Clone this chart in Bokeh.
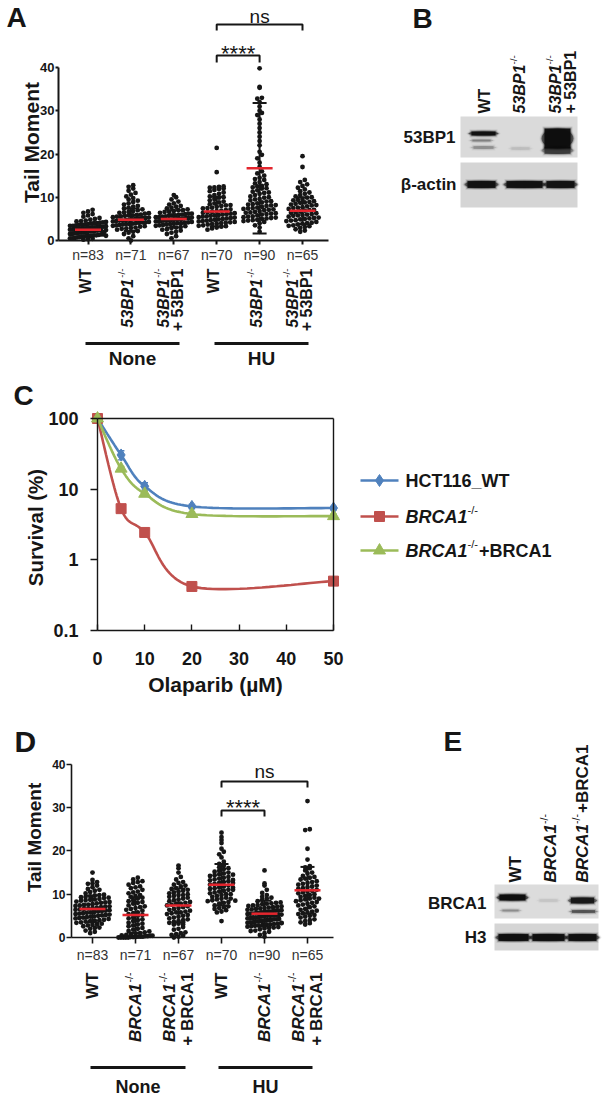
import math
import numpy as np
from bokeh.plotting import figure
from bokeh.layouts import column, row
from bokeh.models import Range1d, LinearAxis, LogAxis, FixedTicker
from bokeh.core.properties import value
from bokeh.embed import file_html
from bokeh.resources import INLINE

FONT = "Liberation Sans"
INK = "#161616"
MEAN_RED = "#e3262e"

# ======================= DATA =======================
# Panel A - tail moment, 53BP1 series
a_none_wt = [0.2,0.3,0.4,0.5,0.5,0.6,0.7,0.8,0.8,0.9,1.0,1.0,1.1,1.2,1.2,1.3,1.4,1.4,1.5,1.5,1.6,1.7,1.7,1.8,1.8,1.9,1.9,2.0,2.0,2.1,2.1,2.2,2.2,2.3,2.3,2.4,2.4,2.5,2.5,2.6,2.6,2.7,2.7,2.8,2.8,2.9,2.9,3.0,3.0,3.1,3.1,3.2,3.2,3.3,3.4,3.4,3.5,3.6,3.6,3.7,3.8,3.9,4.0,4.0,4.1,4.2,4.3,4.4,4.5,4.6,4.8,5.0,5.2,5.5,5.8,6.1,6.4,6.7,7.1,1.1,1.6,2.0,2.4]
a_none_ko = [0.0,0.5,1.0,1.5,1.8,2.0,2.2,2.5,2.7,2.8,2.9,3.0,3.2,3.3,3.4,3.5,3.6,3.7,3.8,3.8,3.9,4.0,4.1,4.2,4.2,4.3,4.4,4.5,4.6,4.6,4.7,4.8,4.9,5.0,5.1,5.2,5.2,5.3,5.4,5.5,5.6,5.7,5.8,5.8,5.9,6.0,6.2,6.3,6.4,6.5,6.6,6.8,7.0,7.2,7.4,7.6,7.8,8.0,8.3,8.6,8.9,9.2,9.5,9.8,10.2,10.6,11.0,11.5,12.0,12.4,12.8]
a_none_res = [0.5,1.0,1.5,1.8,2.0,2.3,2.5,2.6,2.9,3.0,3.1,3.3,3.4,3.5,3.6,3.7,3.8,3.9,4.0,4.0,4.1,4.2,4.3,4.4,4.4,4.5,4.6,4.6,4.7,4.8,4.8,4.9,5.0,5.0,5.1,5.2,5.2,5.3,5.4,5.4,5.5,5.6,5.7,5.8,5.8,5.9,6.0,6.1,6.2,6.2,6.4,6.6,6.6,6.8,7.0,7.0,7.2,7.4,7.6,7.8,8.0,8.3,8.6,9.0,9.5,10.0,10.5]
a_hu_wt = [2.5,2.8,3.0,3.2,3.3,3.4,3.5,3.7,3.8,3.9,4.0,4.1,4.2,4.3,4.4,4.5,4.6,4.7,4.8,4.9,5.0,5.1,5.2,5.3,5.4,5.5,5.6,5.7,5.8,5.9,6.0,6.1,6.2,6.3,6.4,6.5,6.6,6.8,6.9,7.0,7.2,7.4,7.5,7.6,7.8,8.0,8.1,8.2,8.4,8.6,8.8,9.0,9.3,9.6,9.9,10.0,10.2,10.5,10.8,11.1,11.4,11.7,11.9,12.0,12.2,12.3,12.4,12.5,15.8,21.4]
a_hu_ko = [2.0,3.0,3.5,4.0,4.3,4.5,4.6,4.7,4.8,5.0,5.1,5.2,5.3,5.4,5.5,5.6,5.8,6.0,6.1,6.2,6.3,6.4,6.5,6.6,6.8,7.0,7.1,7.2,7.3,7.4,7.5,7.6,7.8,8.0,8.1,8.2,8.3,8.4,8.6,8.8,9.0,9.1,9.3,9.5,9.6,9.9,10.0,10.2,10.5,10.8,11.0,11.1,11.3,11.6,12.0,12.1,12.3,12.5,12.6,13.0,13.2,13.5,14.0,14.2,14.5,15.0,15.5,16.0,17.0,18.0,19.0,19.8,20.5,22.0,23.0,24.0,25.0,26.0,27.0,28.0,29.0,29.5,30.0,31.0,32.0,32.8,33.0,35.3,35.5,39.8]
a_hu_res = [2.0,2.3,2.6,2.9,3.1,3.3,3.4,3.5,3.7,3.9,4.0,4.1,4.3,4.5,4.6,4.7,4.9,5.0,5.1,5.2,5.3,5.5,5.7,5.8,5.9,6.0,6.1,6.3,6.4,6.5,6.7,6.9,7.0,7.1,7.3,7.5,7.6,7.7,7.9,8.1,8.2,8.3,8.5,8.7,8.8,8.9,9.1,9.3,9.4,9.6,9.9,10.0,10.2,10.5,10.8,11.1,11.4,11.8,12.2,12.6,13.0,13.5,14.0,17.0,19.5]
a_means = [2.5, 4.8, 5.0, 6.7, 16.7, 6.9]
a_sds = [1.3, 2.6, 2.0, 3.4, 15.1, 3.1]
a_n_labels = ["n=83", "n=71", "n=67", "n=70", "n=90", "n=65"]
a_lanes = [
    [[("WT", "b")]],
    [[("53BP1", "bi"), ("-/-", "sup")]],
    [[("53BP1", "bi"), ("-/-", "sup")], [("+ 53BP1", "b")]],
    [[("WT", "b")]],
    [[("53BP1", "bi"), ("-/-", "sup")]],
    [[("53BP1", "bi"), ("-/-", "sup")], [("+ 53BP1", "b")]],
]
treatments = ["None", "HU"]
a_sig = [(4, 5, "****"), (4, 6, "ns")]

# Panel B - western blot band intensities (relative)
b_lane_labels = [[("WT", "b")], [("53BP1", "bi"), ("-/-", "sup")],
                 [("53BP1", "bi"), ("-/-", "sup")], [("+ 53BP1", "b")]]
b_53bp1 = [0.95, 0.06, 1.0]
b_actin = [0.92, 0.92, 0.90]

# Panel C - survival vs olaparib
olaparib_um = [0, 5, 10, 20, 50]
surv_wt = [100, 30.5, 11.0, 5.7, 5.4]
surv_ko = [100, 5.3, 2.44, 0.42, 0.50]
surv_res = [100, 19.5, 8.6, 4.45, 4.15]
err_wt = [0, 4.5, 1.3, 0.4, 0.3]
err_ko = [0, 0.3, 0.2, 0.03, 0.03]
err_res = [0, 1.5, 0.7, 0.3, 0.3]
c_legend = [[("HCT116_WT", "b")], [("BRCA1", "bi"), ("-/-", "sup")],
            [("BRCA1", "bi"), ("-/-", "sup"), ("+BRCA1", "b")]]
c_colors = ["#4f81bd", "#c0504d", "#9bbb59"]
c_markers = ["diamond", "square", "triangle"]

# Panel D - tail moment, BRCA1 series
d_none_wt = [1.0,1.3,1.6,2.0,2.2,2.3,2.6,2.8,2.9,3.0,3.2,3.4,3.5,3.7,3.8,3.9,4.0,4.1,4.3,4.4,4.5,4.6,4.7,4.8,4.9,5.0,5.1,5.2,5.3,5.4,5.5,5.6,5.7,5.8,5.9,6.0,6.1,6.2,6.3,6.4,6.5,6.6,6.7,6.8,6.9,7.0,7.1,7.2,7.3,7.4,7.5,7.6,7.7,7.9,8.0,8.1,8.2,8.3,8.5,8.6,8.7,8.8,8.9,9.1,9.2,9.3,9.4,9.5,9.7,9.8,9.9,10.2,10.5,10.8,11.0,11.2,11.6,12.0,12.4,12.5,12.8,13.3,15.0]
d_none_ko = [0.0,0.0,0.0,0.0,0.0,0.1,0.1,0.1,0.2,0.2,0.2,0.3,0.3,0.4,0.4,0.5,0.6,0.7,0.9,1.0,1.2,1.4,1.5,1.8,2.0,2.2,2.6,2.8,3.0,3.2,3.4,3.8,4.0,4.2,4.4,4.6,5.0,5.2,5.4,5.6,5.8,6.2,6.4,6.6,6.8,7.0,7.2,7.4,7.8,8.0,8.2,8.4,8.6,9.0,9.2,9.4,9.6,9.8,10.2,10.4,10.6,11.0,11.4,11.6,11.8,12.2,12.6,12.8,13.0,13.4,13.8]
d_none_res = [0.0,0.2,0.4,0.6,0.8,1.0,1.2,1.8,2.0,2.4,3.0,3.2,3.4,3.6,3.8,4.0,4.2,4.4,4.6,4.8,5.0,5.2,5.4,5.6,5.8,5.8,6.0,6.2,6.4,6.6,6.8,7.0,7.2,7.4,7.6,7.8,7.8,8.0,8.2,8.4,8.6,8.8,9.0,9.2,9.4,9.6,9.8,9.8,10.0,10.2,10.4,10.6,10.8,11.0,11.2,11.4,11.8,12.0,12.2,12.6,12.8,13.4,14.0,15.0,16.0,16.6,3.0]
d_hu_wt = [3.8,5.8,6.0,6.3,6.6,6.8,7.0,7.2,7.4,7.8,8.0,8.2,8.4,8.6,8.8,9.0,9.2,9.4,9.6,9.8,10.0,10.2,10.4,10.6,10.8,11.0,11.0,11.2,11.4,11.6,11.8,12.0,12.2,12.4,12.6,12.8,13.0,13.2,13.4,13.6,13.8,14.0,14.2,14.4,14.6,14.8,15.0,15.2,15.4,15.8,16.0,16.2,16.6,17.0,17.5,18.5,19.2,19.8,20.5,21.8,22.5,23.2,24.2,12.6,10.0,9.0,11.5,13.3,14.5,8.5]
d_hu_ko = [0.2,0.6,1.0,1.3,1.5,1.6,1.9,2.1,2.2,2.3,2.4,2.5,2.6,2.7,2.8,2.9,3.0,3.0,3.1,3.2,3.3,3.4,3.5,3.5,3.6,3.7,3.8,3.8,3.9,4.0,4.0,4.1,4.2,4.2,4.3,4.4,4.5,4.5,4.6,4.7,4.8,4.9,5.0,5.0,5.1,5.2,5.2,5.3,5.4,5.5,5.5,5.6,5.7,5.8,5.9,6.0,6.0,6.1,6.2,6.2,6.3,6.4,6.5,6.6,6.7,6.8,6.9,7.0,7.1,7.2,7.3,7.4,7.5,7.7,7.8,7.9,8.0,8.1,8.4,8.7,9.0,9.2,9.4,9.8,10.3,11.0,12.0,12.5,15.5,3.4]
d_hu_res = [3.0,3.3,3.5,3.8,4.0,4.2,4.6,4.8,5.0,5.2,5.4,5.6,5.8,6.0,6.2,6.4,6.6,7.0,7.2,7.4,7.6,7.8,8.0,8.2,8.4,8.6,8.8,9.0,9.2,9.4,9.6,9.8,10.0,10.2,10.4,10.6,10.8,11.0,11.2,11.4,11.6,11.8,12.0,12.2,12.4,12.6,12.8,13.0,13.4,13.6,13.8,14.0,14.2,14.8,15.0,15.5,16.0,16.2,16.5,18.0,20.5,24.8,25.0,31.5,9.0]
d_means = [6.6, 5.2, 7.4, 12.2, 5.5, 10.9]
d_sds = [3.1, 4.1, 3.9, 4.8, 3.0, 5.4]
d_n_labels = ["n=83", "n=71", "n=67", "n=70", "n=90", "n=65"]
d_lanes = [
    [[("WT", "b")]],
    [[("BRCA1", "bi"), ("-/-", "sup")]],
    [[("BRCA1", "bi"), ("-/-", "sup")], [("+ BRCA1", "b")]],
    [[("WT", "b")]],
    [[("BRCA1", "bi"), ("-/-", "sup")]],
    [[("BRCA1", "bi"), ("-/-", "sup")], [("+ BRCA1", "b")]],
]
d_sig = [(4, 5, "****"), (4, 6, "ns")]

# Panel E - western blot band intensities (relative)
e_lane_labels = [[("WT", "b")], [("BRCA1", "bi"), ("-/-", "sup")],
                 [("BRCA1", "bi"), ("-/-", "sup"), ("+BRCA1", "b")]]
e_brca1 = [1.0, 0.05, 0.85]
e_h3 = [0.95, 0.95, 0.92]

# ======================= HELPERS =======================
AW = {' ': 278, '+': 584, '-': 333, '/': 278, '_': 556, 'A': 722, 'B': 722, 'C': 722,
      'H': 722, 'P': 667, 'R': 722, 'T': 611, 'W': 944}


def tw(s, size):
    return sum(AW.get(ch, 556) for ch in s) * size / 1000.0


def canvas(w, h, xr, yr, log_y=False):
    p = figure(width=w, height=h, x_range=Range1d(*xr), y_range=Range1d(*yr),
               y_axis_type="log" if log_y else "linear",
               x_axis_location=None, y_axis_location=None,
               min_border=0, toolbar_location=None, output_backend="svg")
    p.xgrid.visible = False
    p.ygrid.visible = False
    p.outline_line_color = None
    p.background_fill_color = "white"
    p.border_fill_color = "white"
    return p


def put(p, x, y, s, size, style="bold", align="left", base="middle", angle=0.0, color=INK, font=FONT):
    p.text(x=[x], y=[y], text=[s], angle=angle, text_font=value(font),
           text_font_size=value(f"{size}px"), text_font_style=style,
           text_align=align, text_baseline=base, text_color=color)


def fmt(parts, size):
    out = []
    for t, kind in parts:
        if kind == "sup":
            out.append((t, round(size * 0.62, 1), "normal", size * 0.38))
        elif kind == "bi":
            out.append((t, size, "bold italic", 0))
        else:
            out.append((t, size, "bold", 0))
    return out


def rot_right_top(p, fx, fy, xpx, top, parts):
    cur = top
    for t, size, style, rz in reversed(parts):
        put(p, fx(xpx - rz), fy(cur), t, size, style=style, align="right", angle=math.pi / 2)
        cur += tw(t, size) + (1 if rz else 0)


def rot_left_bottom(p, fx, fy, xpx, bottom, parts):
    cur = bottom
    for t, size, style, rz in parts:
        put(p, fx(xpx - rz), fy(cur), t, size, style=style, align="left", angle=math.pi / 2)
        cur -= tw(t, size) + (1 if rz else 0)


def hseq(p, fx, fy, x, mid, parts):
    cur = x
    for t, size, style, rz in parts:
        put(p, fx(cur), fy(mid - rz), t, size, style=style, align="left")
        cur += tw(t, size) + (1 if rz else 0)


def swarm(vals, k, row_px=4.2, col_px=4.6, maxw=34.0):
    vals = np.asarray(vals, float)
    bins = np.round(vals * k / row_px).astype(int)
    off = np.zeros(len(vals))
    for b in np.unique(bins):
        idx = np.where(bins == b)[0]
        n = len(idx)
        step = col_px if n < 2 else min(col_px, maxw / (n - 1))
        off[idx] = (np.arange(n) - (n - 1) / 2.0) * step
    return off


def axis_kw(**kw):
    base = dict(axis_line_color=INK, major_tick_line_color=INK, minor_tick_line_color=None,
                minor_tick_in=0, minor_tick_out=0, major_label_text_font=FONT,
                major_label_text_color=INK)
    base.update(kw)
    return base


# ======================= DOT PANELS (A, D) =======================
def dot_panel(cfg, groups, means, sds, nlab, lanes, sig):
    bx, by, bw, bh = cfg["box"]
    gx0, gdx, y0, k = cfg["gx0"], cfg["gdx"], cfg["y0"], cfg["k"]
    fx = lambda px: 1 + (px - gx0) / gdx
    fy = lambda py: (y0 - py) / k
    p = canvas(bw, bh, (fx(bx), fx(bx + bw)), (fy(by + bh), fy(by)))

    cats = np.arange(1, len(groups) + 1, dtype=float)
    xs, ys = [], []
    for c, vals in zip(cats, groups):
        off = swarm(vals, k, maxw=cfg["swarm_w"])
        xs.extend(c + off / gdx)
        ys.extend(vals)
    p.scatter(x=xs, y=ys, size=cfg["dot"], marker="circle", fill_color=INK, line_color=None)

    m = np.array(means)
    s = np.array(sds)
    lw = cfg["bar_w"]
    cap = cfg["cap"] / gdx
    p.segment(x0=cats, y0=m - s, x1=cats, y1=m + s, line_color=INK, line_width=lw)
    p.segment(x0=cats - cap, y0=m + s, x1=cats + cap, y1=m + s, line_color=INK, line_width=lw)
    p.segment(x0=cats - cap, y0=m - s, x1=cats + cap, y1=m - s, line_color=INK, line_width=lw)
    half = cfg["mean_half"] / gdx
    p.segment(x0=cats - half, y0=m, x1=cats + half, y1=m, line_color=MEAN_RED, line_width=2.5)

    yax = LinearAxis(**axis_kw(fixed_location=fx(cfg["ax"]), bounds=(0, 40),
                               ticker=FixedTicker(ticks=[0, 10, 20, 30, 40]),
                               axis_line_width=cfg["axis_w"], major_tick_line_width=cfg["axis_w"],
                               major_tick_out=cfg["tick"], major_tick_in=0,
                               major_label_text_font_size=f"{cfg['tick_size']}px",
                               major_label_text_font_style="bold", major_label_standoff=1))
    p.add_layout(yax, "left")
    xax = LinearAxis(**axis_kw(fixed_location=0, bounds=(fx(cfg["ax"]), fx(cfg["ar"])),
                               ticker=FixedTicker(ticks=list(cats)),
                               major_label_overrides={float(c): t for c, t in zip(cats, nlab)},
                               axis_line_width=cfg["axis_w"], major_tick_line_width=cfg["axis_w"],
                               major_tick_out=cfg["xtick"], major_tick_in=0,
                               major_label_text_font_size=f"{cfg['n_size']}px",
                               major_label_text_font_style="normal",
                               major_label_text_color="#333333",
                               major_label_standoff=cfg["n_standoff"]))
    p.add_layout(xax, "below")

    lt, lx, lm, ls = cfg["letter"]
    put(p, fx(lx), fy(lm), lt, ls)
    yl, ylx, yly, yls = cfg["ylabel"]
    put(p, fx(ylx), fy(yly), yl, yls, align="center", angle=math.pi / 2)

    for (i, j, lab), (ly, ty, tm, ts, st) in zip(sig, cfg["brackets"]):
        p.multi_line(xs=[[i, i, j, j]], ys=[[fy(ty), fy(ly), fy(ly), fy(ty)]],
                     line_color=INK, line_width=cfg["brk_w"])
        put(p, (i + j) / 2.0, fy(tm), lab, ts, style=st, align="center")

    for c, lines in zip(cats, lanes):
        L = len(lines)
        for jj, parts in enumerate(lines):
            xpx = gx0 + (c - 1) * gdx + cfg["lane_dx"] + (jj - (L - 1) / 2.0) * cfg["line_gap"]
            rot_right_top(p, fx, fy, xpx, cfg["lane_top"], fmt(parts, cfg["lane_size"]))

    for (x0, x1), name in zip(cfg["glines"], treatments):
        p.segment(x0=fx(x0), y0=fy(cfg["gl_y"]), x1=fx(x1), y1=fy(cfg["gl_y"]),
                  line_width=3, line_color=INK)
        put(p, fx((x0 + x1) / 2.0), fy(cfg["gl_mid"]), name, cfg["gl_size"], align="center")
    return p


cfg_a = dict(box=(0, 0, 338, 378), gx0=87.5, gdx=42.9, y0=240, k=4.325, ax=58, ar=328,
             dot=4.8, swarm_w=36, bar_w=2, cap=7, mean_half=13, axis_w=2, tick=3, xtick=4, tick_size=13,
             n_size=14, n_standoff=2, letter=("A", 6, 17, 28), ylabel=("Tail Moment", 31, 142, 21),
             brackets=[(55, 62, 53, 22, "normal"), (24, 30, 16, 19, "normal")], brk_w=2,
             lane_dx=-3, line_gap=14, lane_top=268, lane_size=16,
             glines=[(85, 179), (214, 308)], gl_y=343, gl_mid=358, gl_size=19)

cfg_d = dict(box=(0, 700, 340, 402), gx0=92, gdx=43, y0=937, k=4.33, ax=71, ar=333,
             dot=4.8, swarm_w=34, bar_w=2, cap=7, mean_half=13, axis_w=1.6, tick=5, xtick=6, tick_size=12,
             n_size=14, n_standoff=3, letter=("D", 14, 741, 30), ylabel=("Tail Moment", 34, 837, 19),
             brackets=[(810, 816, 807, 22, "normal"), (781, 787, 771, 19, "normal")], brk_w=2,
             lane_dx=0, line_gap=18, lane_top=972, lane_size=17,
             glines=[(90, 185), (218, 312)], gl_y=1067, gl_mid=1086, gl_size=18)

pa = dot_panel(cfg_a, [a_none_wt, a_none_ko, a_none_res, a_hu_wt, a_hu_ko, a_hu_res],
               a_means, a_sds, a_n_labels, a_lanes, a_sig)
pd = dot_panel(cfg_d, [d_none_wt, d_none_ko, d_none_res, d_hu_wt, d_hu_ko, d_hu_res],
               d_means, d_sds, d_n_labels, d_lanes, d_sig)


# ======================= BLOTS (B, E) =======================
def band(p, cx, cy, w, h, inten):
    for grow, a in ((4, 0.10), (2, 0.28), (0, 0.95)):
        p.ellipse(x=cx, y=-cy, width=w + grow + 6, height=h + grow, fill_color="#0c0c0c",
                  fill_alpha=min(1.0, a * inten * 0.6), line_color=None)
        p.rect(x=cx, y=-cy, width=w + grow, height=h + grow, fill_color="#0c0c0c",
               fill_alpha=min(1.0, a * inten), line_color=None)


ident = lambda v: v
neg = lambda v: -v

pb = canvas(273, 378, (338, 611), (-378, 0))
put(pb, 412, -18, "B", 28)
pb.quad(left=[460], right=[577], top=[-116], bottom=[-157], fill_color="#dadada", line_color=None)
pb.quad(left=[460], right=[577], top=[-162], bottom=[-207], fill_color="#d5d5d5", line_color=None)
b_lane_x = [483, 520, 557]
# 53BP1 row
band(pb, b_lane_x[0], 133, 24, 4, b_53bp1[0])
band(pb, b_lane_x[0] - 2, 140, 18, 2, b_53bp1[0] * 0.25)
band(pb, b_lane_x[0], 147, 20, 3, b_53bp1[0] * 0.2)
band(pb, b_lane_x[1], 148, 18, 3, b_53bp1[1])
band(pb, b_lane_x[2], 138, 26, 20, b_53bp1[2])
band(pb, b_lane_x[2], 150, 26, 7, b_53bp1[2] * 0.55)
# actin row
for cx, w, it in zip([481, 524, 560], [28, 36, 28], b_actin):
    band(pb, cx, 184, w, 7, it)
put(pb, 455, -137, "53BP1", 17, align="right")
put(pb, 456, -184, "β-actin", 17, align="right")
rot_left_bottom(pb, ident, neg, 484, 113, fmt(b_lane_labels[0], 16))
rot_left_bottom(pb, ident, neg, 519, 113, fmt(b_lane_labels[1], 16))
rot_left_bottom(pb, ident, neg, 555, 113, fmt(b_lane_labels[2], 16))
rot_left_bottom(pb, ident, neg, 570, 113, fmt(b_lane_labels[3], 16))

pe = canvas(271, 402, (340, 611), (-1102, -700))
put(pe, 443, -741, "E", 28)
pe.quad(left=[494], right=[598], top=[-884], bottom=[-918], fill_color="#dcdcdc", line_color=None)
pe.quad(left=[494], right=[598], top=[-923], bottom=[-950], fill_color="#d5d5d5", line_color=None)
e_lane_x = [512, 548, 582]
band(pe, e_lane_x[0], 897, 26, 6, e_brca1[0])
band(pe, e_lane_x[0] - 2, 910, 16, 2, e_brca1[0] * 0.2)
band(pe, e_lane_x[1], 900, 18, 3, e_brca1[1])
band(pe, e_lane_x[2], 900, 23, 6, e_brca1[2])
band(pe, e_lane_x[2] + 1, 911, 23, 3, e_brca1[2] * 0.5)
for cx, w, it in zip([513, 548, 582], [30, 32, 28], e_h3):
    band(pe, cx, 937, w, 7, it)
put(pe, 486, -903, "BRCA1", 17, align="right")
put(pe, 486, -937, "H3", 17, align="right")
for xpx, lab in zip([515, 550, 582], e_lane_labels):
    rot_left_bottom(pe, ident, neg, xpx, 882, fmt(lab, 17))

# ======================= PANEL C =======================
CX0, CKX = 97.0, 4.72       # px of 0 uM, px per uM
CY100, CKY = 418.0, 70.67   # px of 100 %, px per decade
cfx = lambda px: (px - CX0) / CKX
cfy = lambda py: 10 ** (2 - (py - CY100) / CKY)

pc = canvas(611, 322, (cfx(0), cfx(611)), (cfy(700), cfy(378)), log_y=True)


def excel_smooth(xd, yd, steps=24):
    P = np.column_stack([CX0 + CKX * np.asarray(xd, float), CKY * np.log10(np.asarray(yd, float))])
    n = len(P)
    out = [P[0]]
    for i in range(n - 1):
        p0 = P[i - 1] if i > 0 else P[i]
        p1, p2 = P[i], P[i + 1]
        p3 = P[i + 2] if i + 2 < n else P[i + 1]
        c1 = p1 + (p2 - p0) / 6.0
        c2 = p2 - (p3 - p1) / 6.0
        t = np.linspace(0, 1, steps)[1:, None]
        seg = (1 - t) ** 3 * p1 + 3 * (1 - t) ** 2 * t * c1 + 3 * (1 - t) * t ** 2 * c2 + t ** 3 * p2
        out.extend(seg)
    out = np.array(out)
    return (out[:, 0] - CX0) / CKX, 10 ** (out[:, 1] / CKY)


pc.add_layout(LogAxis(**axis_kw(fixed_location=0, bounds=(0.1, 100),
                                ticker=FixedTicker(ticks=[0.1, 1, 10, 100]),
                                major_label_overrides={0.1: "0.1", 1: "1", 10: "10", 100: "100"},
                                axis_line_width=1.4, major_tick_line_width=1.4,
                                major_tick_out=7, major_tick_in=0,
                                major_label_text_font_size="18px", major_label_text_font_style="bold",
                                major_label_standoff=12)), "left")
pc.add_layout(LinearAxis(**axis_kw(fixed_location=0.1, bounds=(0, 50),
                                   ticker=FixedTicker(ticks=[0, 10, 20, 30, 40, 50]),
                                   axis_line_width=1.4, major_tick_line_width=1.4,
                                   major_tick_out=0, major_tick_in=6,
                                   major_label_text_font_size="18px", major_label_text_font_style="bold",
                                   major_label_standoff=21)), "below")
pc.add_layout(LogAxis(**axis_kw(fixed_location=50, bounds=(0.1, 100), ticker=FixedTicker(ticks=[]),
                                axis_line_width=1.4, major_tick_out=0, major_tick_in=0,
                                major_label_text_font_size="0px")), "right")
pc.add_layout(LinearAxis(**axis_kw(fixed_location=100, bounds=(0, 50), ticker=FixedTicker(ticks=[]),
                                   axis_line_width=1.4, major_tick_out=0, major_tick_in=0,
                                   major_label_text_font_size="0px")), "above")

series = [(surv_wt, err_wt), (surv_ko, err_ko), (surv_res, err_res)]
sizes = [12, 10, 12]
for (ys, es), col, mk, sz in zip(series, c_colors, c_markers, sizes):
    sx, sy = excel_smooth(olaparib_um, ys)
    pc.line(x=sx, y=sy, line_color=col, line_width=2.6)
    ya = np.array(ys, float)
    ea = np.array(es, float)
    xa = np.array(olaparib_um, float)
    pc.segment(x0=xa, y0=ya - ea, x1=xa, y1=ya + ea, line_color=col, line_width=1.4)
    pc.segment(x0=xa - 0.7, y0=ya + ea, x1=xa + 0.7, y1=ya + ea, line_color=col, line_width=1.4)
    pc.segment(x0=xa - 0.7, y0=ya - ea, x1=xa + 0.7, y1=ya - ea, line_color=col, line_width=1.4)
    pc.scatter(x=xa, y=ya, marker=mk, size=sz, fill_color=col, line_color=col)

put(pc, cfx(13), cfy(395), "C", 28)
put(pc, cfx(35), cfy(527), "Survival (%)", 20.5, align="center", angle=math.pi / 2)
put(pc, cfx(215), cfy(684), "Olaparib (µM)", 21, align="center")

for r, (parts, col, mk, sz) in enumerate(zip(c_legend, c_colors, c_markers, sizes)):
    ry = [480, 516, 550][r]
    pc.line(x=[cfx(360), cfx(398)], y=[cfy(ry), cfy(ry)], line_color=col, line_width=2.6)
    pc.scatter(x=[cfx(379)], y=[cfy(ry)], marker=mk, size=sz, fill_color=col, line_color=col)
    hseq(pc, cfx, cfy, 405, ry, fmt(parts, 18))

layout = column(row(pa, pb), pc, row(pd, pe))
open("out.html", "w").write(file_html(layout, INLINE))
